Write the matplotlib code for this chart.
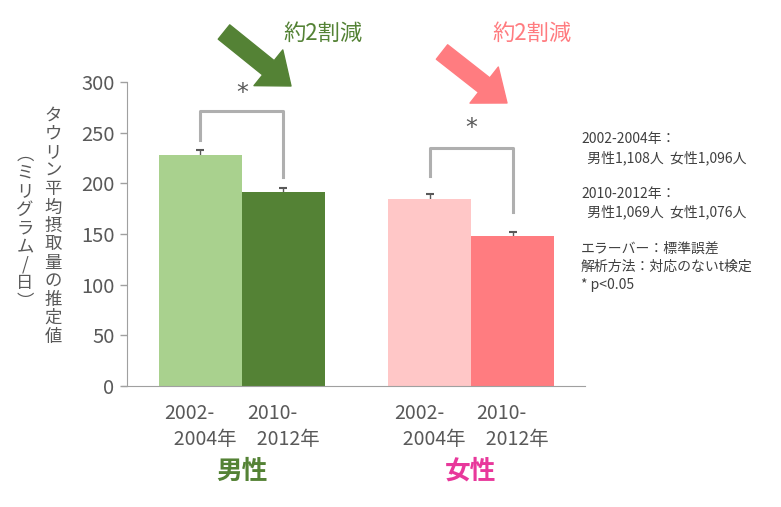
import matplotlib
matplotlib.use("Agg")
import matplotlib.pyplot as plt
import matplotlib.transforms as mtransforms

plt.rcParams['font.family'] = ['Noto Sans CJK JP', 'DejaVu Sans']

# data
periods = ["2002-\n  2004年", "2010-\n  2012年"]
groups = ["男性", "女性"]
male_vals = [228, 191]
female_vals = [185, 148]
male_err = [4.5, 4.5]
female_err = [4.5, 4]
reduction = "約2割減"
note_lines = [
    "2002-2004年：",
    "  男性1,108人  女性1,096人",
    "",
    "2010-2012年：",
    "  男性1,069人  女性1,076人",
    "",
    "エラーバー：標準誤差",
    "解析方法：対応のないt検定",
    "* p<0.05",
]
ylabel_main = "タウリン平均摂取量の推定値"
ylabel_unit = "︵ミリグラム/日︶"

# colours
male_cols = ["#A9D18E", "#548235"]
female_cols = ["#FFC7C7", "#FF7C80"]
male_text = "#548235"
female_text = "#E8389B"
gray_txt = "#595959"
bracket_col = "#AFAFAF"

fig = plt.figure(figsize=(7.81, 5.07), dpi=100)
ax = fig.add_axes([127 / 781, 121 / 507, 458 / 781, 304 / 507])

xm = [0, 1]
xf = [2.76, 3.76]
# error bars sit behind the bars, so only the upper half shows
ax.errorbar(xm, male_vals, yerr=male_err, fmt='none', ecolor=gray_txt, elinewidth=1,
            capsize=3, capthick=1.5, zorder=0.5)
ax.errorbar(xf, female_vals, yerr=female_err, fmt='none', ecolor=gray_txt, elinewidth=1,
            capsize=3, capthick=1.5, zorder=0.5)
ax.bar(xm, male_vals, width=1.0, color=male_cols, zorder=1)
ax.bar(xf, female_vals, width=1.0, color=female_cols, zorder=1)

ax.set_xlim(-0.885, 4.633)
ax.set_ylim(0, 300)
ax.set_yticks(range(0, 301, 50))
ax.tick_params(axis='y', labelsize=14.5, colors="#A0A0A0", labelcolor=gray_txt,
               length=5, width=1, pad=4)
ax.set_xticks(xm + xf)
ax.set_xticklabels(periods * 2, fontsize=14, color=gray_txt, linespacing=1.35)
for lab in ax.get_xticklabels():
    lab.set_multialignment('left')
ax.tick_params(axis='x', length=0, pad=12)
for s in ['top', 'right']:
    ax.spines[s].set_visible(False)
ax.spines['left'].set_color("#A0A0A0")
ax.spines['bottom'].set_color("#A0A0A0")
ax.spines['bottom'].set_bounds(-0.945, 4.633)

# significance brackets
ax.plot([xm[0], xm[0], xm[1], xm[1]], [243, 271, 271, 206], color=bracket_col, lw=2.2,
        clip_on=False)
ax.plot([xf[0], xf[0], xf[1], xf[1]], [207, 235, 235, 172], color=bracket_col, lw=2.2,
        clip_on=False)
ax.text(sum(xm) / 2, 289, "*", ha='center', va='center', fontsize=17, color=gray_txt,
        family='DejaVu Sans')
ax.text(sum(xf) / 2, 255, "*", ha='center', va='center', fontsize=17, color=gray_txt,
        family='DejaVu Sans')

# group labels
trans = mtransforms.blended_transform_factory(ax.transData, ax.transAxes)
ax.text(sum(xm) / 2, -0.28, groups[0], transform=trans, ha='center', va='center',
        fontsize=18.5, fontweight='bold', color=male_text)
ax.text(sum(xf) / 2, -0.28, groups[1], transform=trans, ha='center', va='center',
        fontsize=18.5, fontweight='bold', color=female_text)

# arrows and reduction labels (figure pixels, origin bottom left)
H = 507
arrow_style = 'simple,head_length=0.95,head_width=1.5,tail_width=0.6'
fig.add_artist(plt.Annotation("", xy=(291, H - 86), xytext=(224, H - 32),
                              xycoords='figure pixels', textcoords='figure pixels',
                              arrowprops=dict(arrowstyle=arrow_style, mutation_scale=22,
                                              color=male_cols[1], shrinkA=0, shrinkB=0)))
fig.add_artist(plt.Annotation("", xy=(507, H - 103), xytext=(442, H - 52),
                              xycoords='figure pixels', textcoords='figure pixels',
                              arrowprops=dict(arrowstyle=arrow_style, mutation_scale=22,
                                              color=female_cols[1], shrinkA=0, shrinkB=0)))
fig.text(323 / 781, 1 - 33 / H, reduction, ha='center', va='center', fontsize=16,
         color=male_cols[1])
fig.text(532 / 781, 1 - 33 / H, reduction, ha='center', va='center', fontsize=16,
         color=female_cols[1])

# vertical y label
fig.text(53 / 781, 1 - 226 / H, "\n".join(ylabel_main), ha='center', va='center',
         fontsize=12.5, color=gray_txt, linespacing=1.03)
fig.text(25 / 781, 1 - 228 / H, "\n".join(ylabel_unit), ha='center', va='center',
         fontsize=12.5, color=gray_txt, linespacing=1.03)

# notes
fig.text(581 / 781, 1 - 132 / H, "\n".join(note_lines), ha='left', va='top',
         fontsize=10, color="#404040", linespacing=1.36)

fig.savefig("out.png", dpi=100)
